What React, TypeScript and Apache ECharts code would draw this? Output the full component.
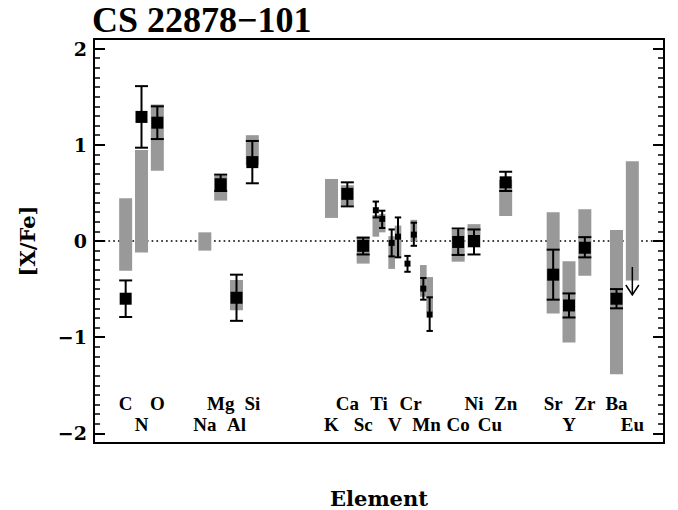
import React, { useEffect, useRef } from 'react';
import * as echarts from 'echarts';

const TITLE = 'CS 22878\u2212101';
const Y_NAME = '[X/Fe]';
const X_NAME = 'Element';
const Y_MAJOR_TICKS = [-2, -1, 0, 1, 2];
const REFERENCE_LEVEL = [0];

// [symbol, atomic-number position, label row]
const elementLabels: [string, number, number][] = [
  ['C', 6, 0], ['N', 7, 1], ['O', 8, 0],
  ['Na', 11, 1], ['Mg', 12, 0], ['Al', 13, 1], ['Si', 14, 0],
  ['K', 19, 1], ['Ca', 20, 0], ['Sc', 21, 1], ['Ti', 22, 0], ['V', 23, 1],
  ['Cr', 24, 0], ['Mn', 25, 1], ['Co', 27, 1], ['Ni', 28, 0], ['Cu', 29, 1],
  ['Zn', 30, 0], ['Sr', 33, 0], ['Y', 34, 1], ['Zr', 35, 0], ['Ba', 37, 0], ['Eu', 38, 1],
];

// measured [X/Fe]: [position, value, lower error end, upper error end]
const mainPoints: number[][] = [
  [6, -0.60, -0.79, -0.41],
  [7, 1.29, 0.97, 1.61],
  [8, 1.23, 1.06, 1.40],
  [12, 0.59, 0.52, 0.69],
  [13, -0.59, -0.83, -0.35],
  [14, 0.82, 0.60, 1.04],
  [20, 0.49, 0.36, 0.61],
  [21, -0.05, -0.14, 0.035],
  [27, -0.01, -0.145, 0.13],
  [28, 0.0, -0.14, 0.12],
  [30, 0.61, 0.52, 0.72],
  [33, -0.35, -0.61, -0.09],
  [34, -0.67, -0.795, -0.545],
  [35, -0.07, -0.17, 0.04],
  [37, -0.60, -0.70, -0.50],
];

// neutral / ionised species (offset positions)
const speciesPoints: number[][] = [
  [21.8, 0.32, 0.245, 0.41],
  [22.2, 0.23, 0.135, 0.315],
  [22.8, -0.02, -0.16, 0.12],
  [23.2, 0.045, -0.17, 0.245],
  [23.8, -0.235, -0.32, -0.155],
  [24.2, 0.066, -0.05, 0.19],
  [24.8, -0.495, -0.61, -0.385],
  [25.2, -0.765, -0.935, -0.585],
];

// comparison ranges (grey): [position, low, high]
const mainRanges: number[][] = [
  [6, -0.31, 0.445],
  [7, -0.12, 0.945],
  [8, 0.73, 1.42],
  [11, -0.10, 0.09],
  [12, 0.42, 0.68],
  [13, -0.72, -0.405],
  [14, 0.79, 1.10],
  [19, 0.24, 0.645],
  [20, 0.37, 0.58],
  [21, -0.235, 0.045],
  [27, -0.215, 0.115],
  [28, -0.07, 0.175],
  [30, 0.26, 0.635],
  [33, -0.755, 0.30],
  [34, -1.055, -0.21],
  [35, -0.36, 0.33],
  [37, -1.385, 0.115],
  [38, -0.41, 0.83],
];

const speciesRanges: number[][] = [
  [21.8, 0.045, 0.27],
  [22.2, 0.09, 0.28],
  [22.8, -0.29, 0.05],
  [23.2, -0.17, 0.16],
  [24.2, 0.0, 0.22],
  [24.8, -0.58, -0.25],
  [25.2, -0.74, -0.375],
];

// upper limits: [position, value]
const upperLimits: number[][] = [[38, -0.27]];

const X_MIN = 4;
const X_MAX = 40;
const LABEL_ROW_Y = [-1.685, -1.91];
const GREY = '#999999';
const SERIF_TICK = '"DejaVu Serif", serif';
const SERIF_TEXT = '"Liberation Serif", serif';

const fmtTick = (v: number) => (v < 0 ? '\u2212' + Math.abs(v) : String(v));

function rangeRender(widthUnits: number) {
  return (params: any, api: any) => {
    const x = api.value(0);
    const p1 = api.coord([x - widthUnits / 2, api.value(2)]);
    const p2 = api.coord([x + widthUnits / 2, api.value(1)]);
    return {
      type: 'rect',
      shape: { x: p1[0], y: p1[1], width: p2[0] - p1[0], height: p2[1] - p1[1] },
      style: { fill: GREY },
    };
  };
}

function errRender(half: number) {
  return (params: any, api: any) => {
    const x = api.value(0);
    const top = api.coord([x, api.value(3)]);
    const bot = api.coord([x, api.value(2)]);
    const style = { stroke: '#000', lineWidth: 2, fill: null };
    return {
      type: 'group',
      children: [
        { type: 'line', shape: { x1: top[0], y1: top[1], x2: bot[0], y2: bot[1] }, style },
        { type: 'line', shape: { x1: top[0] - half, y1: top[1], x2: top[0] + half, y2: top[1] }, style },
        { type: 'line', shape: { x1: bot[0] - half, y1: bot[1], x2: bot[0] + half, y2: bot[1] }, style },
      ],
    };
  };
}

export default function App() {
  const ref = useRef<HTMLDivElement>(null);
  useEffect(() => {
    document.body.style.margin = '0';
    const chart = echarts.init(ref.current!, null, { renderer: 'svg' });
    const axisLine = { show: true, onZero: false, lineStyle: { color: '#000', width: 2 } };
    const yBase = { type: 'value', min: -2.1, max: 2.1, splitLine: { show: false } };
    chart.setOption({
      animation: false,
      backgroundColor: '#fff',
      title: {
        text: TITLE,
        left: 92,
        top: 2,
        padding: 0,
        textStyle: { fontFamily: SERIF_TEXT, fontWeight: 'bold', fontSize: 36, color: '#000' },
      },
      grid: { left: 94, right: 14, top: 39, bottom: 67, containLabel: false, outerBoundsMode: 'none' },
      xAxis: [
        {
          type: 'value', min: X_MIN, max: X_MAX, position: 'bottom',
          axisLine, axisTick: { show: false }, axisLabel: { show: false }, splitLine: { show: false },
          name: X_NAME, nameLocation: 'middle', nameGap: 45,
          nameTextStyle: { fontFamily: SERIF_TICK, fontWeight: 'bold', fontSize: 21, color: '#000' },
        },
        {
          type: 'value', min: X_MIN, max: X_MAX, position: 'top',
          axisLine, axisTick: { show: false }, axisLabel: { show: false }, splitLine: { show: false },
        },
      ],
      yAxis: [
        {
          ...yBase, position: 'left', interval: 0.1,
          axisLine, axisTick: { show: true, inside: true, length: 6, lineStyle: { color: '#000', width: 1.5 } },
          axisLabel: { show: false },
        },
        {
          ...yBase, position: 'left',
          axisLine: { show: false },
          axisTick: { show: true, inside: true, length: 11, customValues: Y_MAJOR_TICKS, lineStyle: { color: '#000', width: 2 } },
          axisLabel: {
            show: true, customValues: Y_MAJOR_TICKS, margin: 7, formatter: fmtTick,
            fontFamily: SERIF_TICK, fontWeight: 'bold', fontSize: 19, color: '#000',
          },
          name: Y_NAME, nameLocation: 'middle', nameGap: 56, nameRotate: 90,
          nameTextStyle: { fontFamily: SERIF_TICK, fontWeight: 'bold', fontSize: 21, color: '#000' },
        },
        {
          ...yBase, position: 'right', interval: 0.1,
          axisLine, axisTick: { show: true, inside: true, length: 6, lineStyle: { color: '#000', width: 1.5 } },
          axisLabel: { show: false },
        },
        {
          ...yBase, position: 'right',
          axisLine: { show: false },
          axisTick: { show: true, inside: true, length: 11, customValues: Y_MAJOR_TICKS, lineStyle: { color: '#000', width: 2 } },
          axisLabel: { show: false },
        },
      ],
      series: [
        {
          type: 'custom', z: 1, silent: true, data: REFERENCE_LEVEL.map((v) => [X_MIN, v]),
          encode: { x: 0, y: 1 },
          renderItem: (params: any, api: any) => {
            const a = api.coord([X_MIN, api.value(1)]);
            const b = api.coord([X_MAX, api.value(1)]);
            return {
              type: 'line',
              shape: { x1: a[0], y1: a[1], x2: b[0], y2: b[1] },
              style: { stroke: '#000', lineWidth: 1.7, lineDash: [1.7, 3.1], fill: null },
            };
          },
        },
        { type: 'custom', z: 2, silent: true, renderItem: rangeRender(0.82), data: mainRanges, encode: { x: 0, y: [1, 2] } },
        { type: 'custom', z: 2, silent: true, renderItem: rangeRender(0.42), data: speciesRanges, encode: { x: 0, y: [1, 2] } },
        { type: 'custom', z: 3, silent: true, renderItem: errRender(6.5), data: mainPoints, encode: { x: 0, y: [1, 2, 3] } },
        { type: 'custom', z: 3, silent: true, renderItem: errRender(3.2), data: speciesPoints, encode: { x: 0, y: [1, 2, 3] } },
        {
          type: 'scatter', z: 4, silent: true, symbol: 'rect', symbolSize: 12,
          itemStyle: { color: '#000', opacity: 1 }, data: mainPoints.map((p) => [p[0], p[1]]),
        },
        {
          type: 'scatter', z: 4, silent: true, symbol: 'rect', symbolSize: 6,
          itemStyle: { color: '#000', opacity: 1 }, data: speciesPoints.map((p) => [p[0], p[1]]),
        },
        {
          type: 'custom', z: 5, silent: true, data: upperLimits, encode: { x: 0, y: 1 },
          renderItem: (params: any, api: any) => {
            const c = api.coord([api.value(0), api.value(1)]);
            const style = { stroke: '#000', lineWidth: 1.5, fill: null };
            return {
              type: 'group',
              children: [
                { type: 'line', shape: { x1: c[0], y1: c[1], x2: c[0], y2: c[1] + 28 }, style },
                { type: 'polyline', shape: { points: [[c[0] - 6.5, c[1] + 18], [c[0], c[1] + 28], [c[0] + 6.5, c[1] + 18]] }, style },
              ],
            };
          },
        },
        {
          type: 'custom', z: 6, silent: true,
          data: elementLabels.map(([, x, r]) => [x, LABEL_ROW_Y[r]]),
          encode: { x: 0, y: 1 },
          renderItem: (params: any, api: any) => {
            const c = api.coord([api.value(0), api.value(1)]);
            return {
              type: 'text', x: c[0], y: c[1],
              style: {
                text: elementLabels[params.dataIndex][0], fill: '#000',
                font: 'bold 19px ' + SERIF_TEXT, align: 'center', verticalAlign: 'middle',
                textAlign: 'center', textVerticalAlign: 'middle',
              },
            };
          },
        },
      ],
    });
    return () => chart.dispose();
  }, []);
  return <div ref={ref} style={{ width: 678, height: 510 }} />;
}
